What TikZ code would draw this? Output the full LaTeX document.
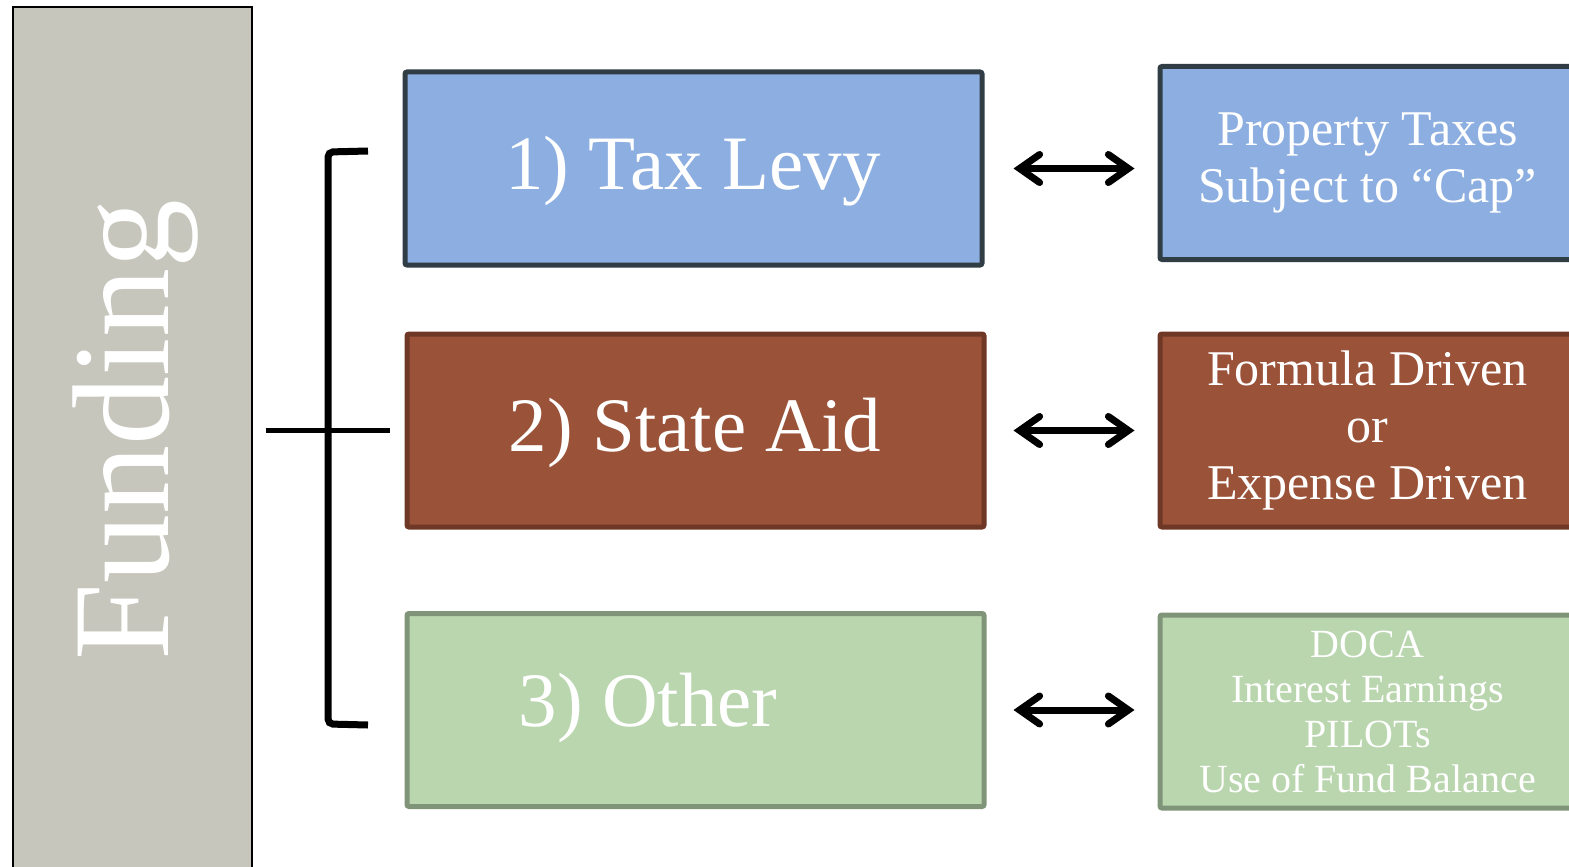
\documentclass[tikz,border=0pt]{standalone}
\usepackage{fontspec}
\setmainfont{Liberation Serif}
\usetikzlibrary{arrows.meta}
\definecolor{fundgray}{HTML}{C6C6BC}
\definecolor{bluefill}{HTML}{8CAEE0}
\definecolor{blueline}{HTML}{313D45}
\definecolor{brownfill}{HTML}{9A5239}
\definecolor{brownline}{HTML}{6F3726}
\definecolor{greenfill}{HTML}{BAD6AE}
\definecolor{greenline}{HTML}{809479}
\tikzset{
  box/.style={rectangle, rounded corners=2pt, line width=5pt, inner sep=0pt, text=white, align=center},
  leftbox/.style={box, minimum width=577pt, minimum height=193pt},
  rightbox/.style={box, minimum width=415pt, minimum height=193pt},
  bigtxt/.style={font=\fontsize{77}{85}\selectfont},
  medtxt/.style={font=\fontsize{50}{57}\selectfont},
  smltxt/.style={font=\fontsize{40}{45}\selectfont},
  barbtip/.tip={Straight Barb[length=20pt,width=28pt,line cap=round,line join=miter]},
  twoway/.style={line width=7pt, {barbtip}-{barbtip}},
  brk/.style={line width=7pt, rounded corners=5pt}
}
\begin{document}
\begin{tikzpicture}[x=1pt,y=-1pt]
\useasboundingbox (0,0) rectangle (1569,867);
\clip (0,0) rectangle (1569,867);
\fill[white] (0,0) rectangle (1569,867);
% Funding column
\node[draw=black, fill=fundgray, line width=2pt, rectangle, minimum width=239pt, minimum height=880pt, inner sep=0pt, anchor=north west] (fund) at (11.5,6) {};
\node[text=white, rotate=90, font=\fontsize{138}{140}\selectfont] (fundtxt) at (136,430) {Funding};
% left boxes
\node[leftbox, draw=blueline, fill=bluefill] (b1) at (693.5,168.5) {};
\node[text=white, bigtxt] (b1txt) at (693,171) {1) Tax Levy};
\node[leftbox, draw=brownline, fill=brownfill] (b2) at (695.5,430.5) {};
\node[text=white, bigtxt] (b2txt) at (695,433) {2) State Aid};
\node[leftbox, draw=greenline, fill=greenfill] (b3) at (695.5,710) {};
\node[text=white, bigtxt] (b3txt) at (648,708) {3) Other};
% right boxes
\node[rightbox, draw=blueline, fill=bluefill, medtxt] (c1) at (1367.5,163) {Property Taxes\\Subject to “Cap”};
\node[rightbox, draw=brownline, fill=brownfill, medtxt] (c2) at (1367.5,430.5) {Formula Driven\\or\\Expense Driven};
\node[rightbox, draw=greenline, fill=greenfill, smltxt] (c3) at (1367.5,711.5) {DOCA\\Interest Earnings\\PILOTs\\Use of Fund Balance};
% arrows
\draw[twoway, shorten <=29pt, shorten >=23pt] (b1.east) -- (b1.east -| c1.west);
\draw[twoway, shorten <=27pt, shorten >=23pt] (b2.east) -- (b2.east -| c2.west);
\draw[twoway, shorten <=27pt, shorten >=23pt] (b3.east) -- (b3.east -| c3.west);
% bracket
\coordinate (brt) at (368,151);
\coordinate (brb) at (368,725);
\draw[brk] (brt) -- (328,152) -- (328,724) -- (brb);
\draw[line width=5pt, shorten <=13pt, shorten >=15pt] (fund.east |- b2.west) -- (b2.west);
\end{tikzpicture}
\end{document}
